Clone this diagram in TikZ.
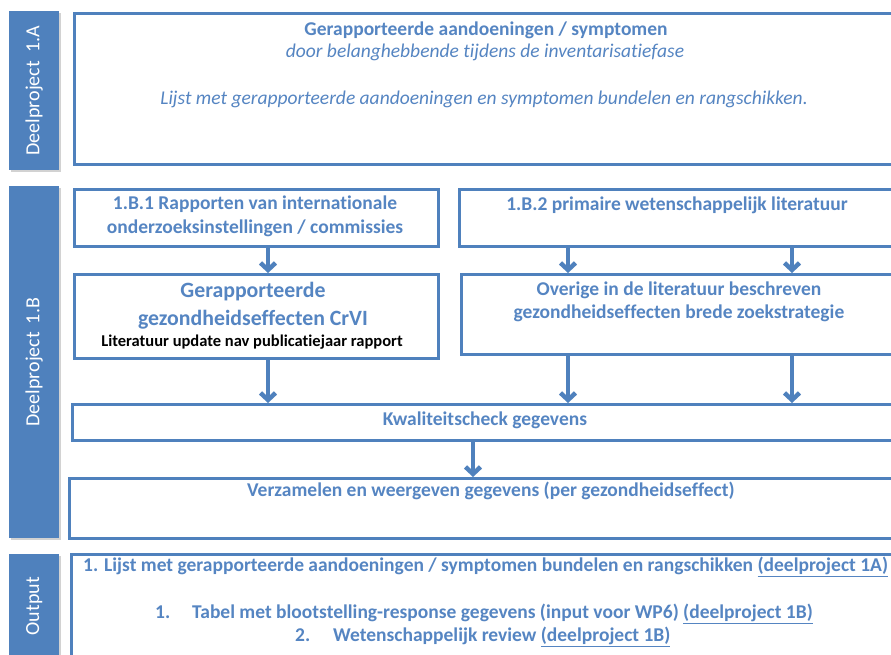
\documentclass[tikz,border=0pt]{standalone}
\usepackage{fontspec}
\setmainfont{Carlito}[Ligatures=NoCommon]
\usetikzlibrary{arrows.meta,shadows,calc}
\definecolor{ob}{HTML}{4F81BD}
\definecolor{ot}{HTML}{5585C2}
\begin{document}
\begin{tikzpicture}[x=1pt,y=-1pt,
  box/.style={draw=ob, line width=3pt, fill=white, inner sep=0pt, anchor=north west},
  side/.style={fill=ob, draw=none, inner sep=0pt, anchor=north west,
    drop shadow={shadow xshift=2pt, shadow yshift=-2pt, opacity=0.35}},
  sidetxt/.style={rotate=90, text=white, font=\fontsize{20}{22}\selectfont},
  arr/.style={draw=ob, line width=4.5pt, -{Straight Barb[length=7pt,width=15pt]}},
  txt/.style={text=ot, inner sep=0pt, align=center},
  bt/.style={txt, font=\fontsize{19.5}{24}\bfseries\selectfont},
  it/.style={txt, font=\fontsize{19.5}{24}\itshape\selectfont}]
\useasboundingbox (0,0) rectangle (891,655);
\clip (0,0) rectangle (891,655);
\fill[white] (0,0) rectangle (891,655);
% side labels
\node[side, minimum width=50pt, minimum height=159pt] (s1a) at (9,11) {};
\node[sidetxt] (s1at) at (s1a.center) {Deelproject\hspace{0.4em}1.A};
\node[side, minimum width=50pt, minimum height=352pt] (s1b) at (9,186) {};
\node[sidetxt] (s1bt) at (s1b.center) {Deelproject\hspace{0.4em}1.B};
\node[side, minimum width=50pt, minimum height=104pt] (so) at (9,554) {};
\node[sidetxt] (sot) at (so.center) {Output};
% boxes
\node[box, minimum width=840pt, minimum height=151pt] (b1a) at (73,12) {};
\node[box, minimum width=364pt, minimum height=57pt] (b1b1) at (73,188) {};
\node[box, minimum width=450pt, minimum height=57pt] (b1b2) at (458,188) {};
\node[box, minimum width=364pt, minimum height=84pt] (crvi) at (73,273) {};
\node[box, minimum width=450pt, minimum height=80pt] (over) at (460,273) {};
\node[box, minimum width=840pt, minimum height=36pt] (kwal) at (71,403) {};
\node[box, minimum width=840pt, minimum height=60pt] (verz) at (68,477) {};
\node[box, minimum width=840pt, minimum height=120pt] (outb) at (70,553) {};
% texts
\node[bt] (t1) at (486,30) {Gerapporteerde aandoeningen / symptomen};
\node[it] (t2) at (485,52) {door belanghebbende tijdens de inventarisatiefase};
\node[it] (t3) at (484,99) {Lijst met gerapporteerde aandoeningen en symptomen bundelen en rangschikken.};
\node[bt] (t4) at (255,216) {1.B.1 Rapporten van internationale\\onderzoeksinstellingen / commissies};
\node[bt] (t5) at (677,205) {1.B.2 primaire wetenschappelijk literatuur};
\node[txt, font=\fontsize{21.8}{28}\bfseries\selectfont] (t6) at (253,306) {Gerapporteerde\\gezondheidseffecten CrVI};
\node[txt, text=black, font=\fontsize{16.5}{18}\bfseries\selectfont] (t7) at (252,342) {Literatuur update nav publicatiejaar rapport};
\node[txt, font=\fontsize{19.5}{23}\bfseries\selectfont] (t8) at (679,302) {Overige in de literatuur beschreven\\gezondheidseffecten brede zoekstrategie};
\node[bt] (t9) at (485,420) {Kwaliteitscheck gegevens};
\node[bt] (t10) at (491,491) {Verzamelen en weergeven gegevens (per gezondheidseffect)};
\node[bt, anchor=west] (t11) at (83,567) {1. Lijst met gerapporteerde aandoeningen / symptomen bundelen en rangschikken \underline{(deelproject 1A)}};
\node[bt, anchor=west] (t12) at (155,614) {\makebox[37pt][l]{1.}Tabel met blootstelling-response gegevens (input voor WP6) \underline{(deelproject 1B)}};
\node[bt, anchor=west] (t13) at (295,637) {\makebox[38pt][l]{2.}Wetenschappelijk review \underline{(deelproject 1B)}};
% arrows
\coordinate (xa) at (268,0);
\coordinate (xb) at (568,0);
\coordinate (xc) at (792,0);
\coordinate (xd) at (473,0);
\draw[arr] (b1b1.south -| xa) -- (crvi.north -| xa);
\draw[arr] (b1b2.south -| xb) -- (over.north -| xb);
\draw[arr] (b1b2.south -| xc) -- (over.north -| xc);
\draw[arr] (crvi.south -| xa) -- (kwal.north -| xa);
\draw[arr] (over.south -| xb) -- (kwal.north -| xb);
\draw[arr] (over.south -| xc) -- (kwal.north -| xc);
\draw[arr] (kwal.south -| xd) -- (verz.north -| xd);
\end{tikzpicture}
\end{document}
